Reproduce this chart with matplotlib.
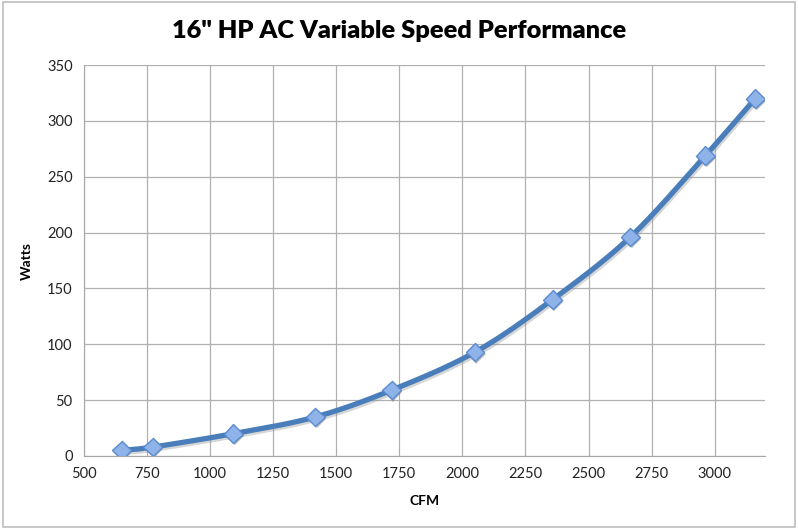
import numpy as np
import matplotlib.pyplot as plt
from matplotlib.patches import Rectangle
import matplotlib.patheffects as pe

cfm = [650, 773, 1093, 1418, 1720, 2050, 2357, 2665, 2963, 3160]
watts = [5, 8, 20, 35, 59, 93, 140, 196, 269, 320]
x_ticks = [500, 750, 1000, 1250, 1500, 1750, 2000, 2250, 2500, 2750, 3000]
y_ticks = [0, 50, 100, 150, 200, 250, 300, 350]

LINE = "#4a7ebb"
MARK_FACE = "#8db3e8"
MARK_EDGE = "#5a8ad0"

plt.rcParams["font.family"] = ["Lato", "DejaVu Sans"]


def smooth(x, y, n=30):
    # Catmull-Rom through the points, like Excel's smoothed line
    x = np.asarray(x, float)
    y = np.asarray(y, float)
    px = np.concatenate([[2 * x[0] - x[1]], x, [2 * x[-1] - x[-2]]])
    py = np.concatenate([[2 * y[0] - y[1]], y, [2 * y[-1] - y[-2]]])
    xs, ys = [], []
    t = np.linspace(0, 1, n)
    for i in range(1, len(px) - 2):
        for p, out in ((px, xs), (py, ys)):
            p0, p1, p2, p3 = p[i - 1], p[i], p[i + 1], p[i + 2]
            out.extend(0.5 * (2 * p1 + (-p0 + p2) * t
                              + (2 * p0 - 5 * p1 + 4 * p2 - p3) * t ** 2
                              + (-p0 + 3 * p1 - 3 * p2 + p3) * t ** 3))
    return np.array(xs), np.array(ys)


def main():
    fig = plt.figure(figsize=(7.98, 5.29), dpi=100)
    fig.patches.append(Rectangle((0.004, 0.004), 0.992, 0.992, transform=fig.transFigure,
                                 fill=False, edgecolor="#bdbdbd", linewidth=1.2))
    ax = fig.add_axes([0.105, 0.138, 0.854, 0.739])

    sx, sy = smooth(cfm, watts)
    ax.plot(sx, sy, color=LINE, linewidth=3.8, solid_capstyle="round", zorder=3,
            path_effects=[pe.SimpleLineShadow(offset=(1, -1.5), shadow_color="#999999", alpha=0.4),
                          pe.Normal()])
    ax.plot(cfm, watts, linestyle="none", marker="D", markersize=9.5,
            markerfacecolor=MARK_FACE, markeredgecolor=MARK_EDGE, markeredgewidth=1, zorder=4,
            path_effects=[pe.SimplePatchShadow(offset=(1, -1.5), shadow_rgbFace="#777777", alpha=0.5),
                          pe.Normal()])

    ax.set_xlim(500, 3200)
    ax.set_ylim(0, 350)
    ax.set_xticks(x_ticks)
    ax.set_yticks(y_ticks)
    ax.grid(True, color="#b0b0b0", linewidth=0.9)
    ax.set_axisbelow(True)
    for side in ("top", "right"):
        ax.spines[side].set_visible(False)
    for side in ("left", "bottom"):
        ax.spines[side].set_color("#a6a6a6")
    ax.tick_params(length=0, labelsize=10.5, colors="#222222", pad=8)

    ax.set_xlabel("CFM", fontsize=10, fontweight="bold", labelpad=10)
    ax.set_ylabel("Watts", fontsize=10, fontweight="bold", labelpad=10)
    fig.text(0.5, 0.942, "16\" HP AC Variable Speed Performance", ha="center", va="center",
             fontsize=18.3, fontweight="heavy")

    fig.savefig("out.png", dpi=100)


if __name__ == "__main__":
    main()
